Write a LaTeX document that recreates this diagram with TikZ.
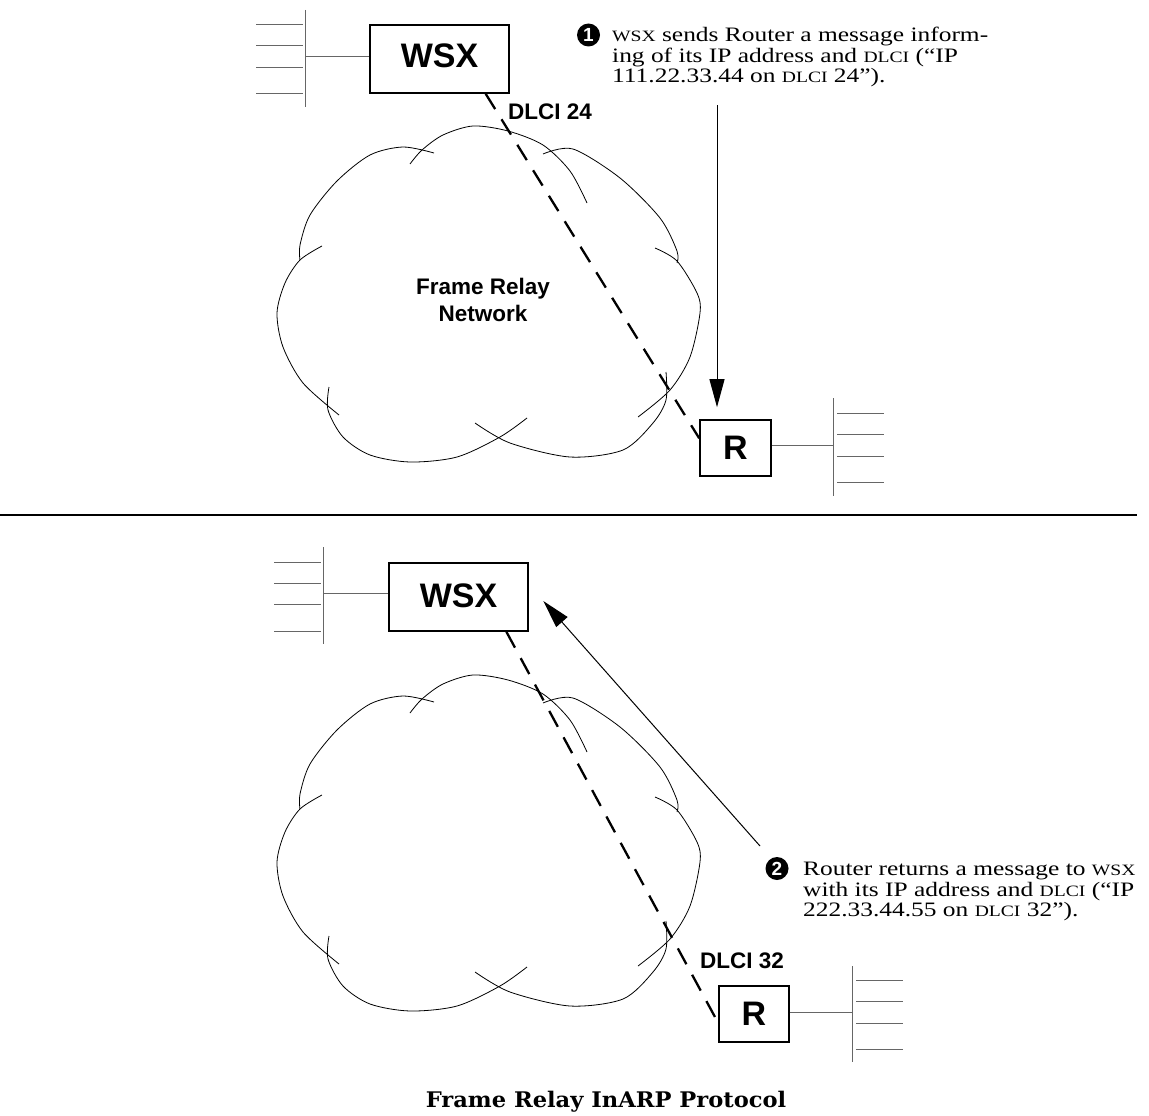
\documentclass[tikz,border=0pt]{standalone}
\usepackage{fontspec}
\usetikzlibrary{arrows.meta}

\newfontfamily\labelfont{Liberation Sans}
\newfontfamily\notefont[FakeStretch=1.24]{Liberation Serif}
\newfontfamily\titlefont[FakeStretch=1.05]{DejaVu Serif}
\newcommand{\smc}[1]{{\fontsize{15.8}{15.8}\selectfont #1}}

\begin{document}
\begin{tikzpicture}[x=1pt, y=-1pt, >={Triangle[length=28pt,width=15pt]},
  box/.style={draw, line width=1.6pt, inner sep=0pt, font=\labelfont\bfseries\fontsize{34}{34}\selectfont},
  stub/.style={draw=black!60, line width=0.9pt},
  link/.style={line width=2.3pt, dash pattern=on 18pt off 12pt},
  badge/.style={circle, fill=black, text=white, inner sep=0pt, minimum size=23pt, font=\labelfont\bfseries\fontsize{19}{19}\selectfont},
  note/.style={anchor=north west, inner sep=0pt, align=left, font=\notefont\fontsize{20.5}{20.5}\selectfont},
  dlci/.style={anchor=base west, inner sep=0pt, font=\labelfont\bfseries\fontsize{22.5}{22.5}\selectfont}]

  \useasboundingbox (0,0) rectangle (1149,1116);

  % Frame relay clouds (upper and lower half)
  \foreach \dy in {0,549}{
    \begin{scope}[shift={(0,\dy)}, line width=0.8pt]
      \draw plot[smooth] coordinates {(410,164) (422,150) (443,135) (473,126) (508,131) (543,145) (570,171) (587,203)};
      \draw plot[smooth] coordinates {(434,153) (403,147) (370,155) (337,181) (310,215) (300,245) (300,260)};
      \draw plot[smooth] coordinates {(543,154) (573,149) (620,178) (660,218) (677,251) (677,263)};
      \draw plot[smooth] coordinates {(322,246) (300,260) (285,283) (277,313) (283,347) (303,383) (339,415)};
      \draw plot[smooth] coordinates {(655,248) (677,261) (697,293) (700,313) (690,357) (670,390) (638,417)};
      \draw plot[smooth] coordinates {(329,387) (328,410) (343,437) (370,455) (410,462) (457,457) (500,437) (527,418)};
      \draw plot[smooth] coordinates {(475,423) (510,443) (570,457) (623,450) (653,423) (666,400) (666,372)};
    \end{scope}
  }

  % Upper half: WSX and router
  \node[box, minimum width=139pt, minimum height=68pt, text depth=6pt] (wsxA) at (439.5,59) {WSX};
  \node[box, minimum width=71pt, minimum height=56pt] (rA) at (735.5,448) {R};
  \node[inner sep=0pt, align=center, font=\labelfont\bfseries\fontsize{22.5}{27}\selectfont] (frnet) at (483,299.5) {Frame Relay\\Network};
  \node[dlci] (dlciA) at (508,119) {DLCI 24};
  \draw[link] (wsxA.-37) -- (rA.165);

  % LANs of the upper half
  \draw[stub] (305,10) -- (305,107);
  \foreach \y in {24,45,67,93} \draw[stub] (256,\y) -- (303,\y);
  \coordinate (lanA) at (305,56);
  \draw[stub] (lanA) -- (lanA -| wsxA.west);
  \draw[stub] (833,398) -- (833,496);
  \foreach \y in {413,434,456,482} \draw[stub] (837,\y) -- (884,\y);
  \coordinate (lanR) at (833,445);
  \draw[stub] (lanR -| rA.east) -- (lanR);

  % Step 1
  \node[badge] (oneA) at (588.5,35) {1};
  \node[note] (noteA) at (612,27) {\smc{WSX} sends Router a message inform-\\ing of its IP address and \smc{DLCI} (“IP\\111.22.33.44 on \smc{DLCI} 24”).};
  \coordinate (tailA) at (717,105);
  \draw[->, line width=1pt, shorten >=12pt] (tailA) -- (tailA |- rA.north);

  % Separator
  \draw[line width=2.5pt] (0,515) -- (1137,515);

  % Lower half: WSX and router
  \node[box, minimum width=139pt, minimum height=68pt, text depth=3pt] (wsxB) at (458.5,597) {WSX};
  \node[box, minimum width=70pt, minimum height=56pt] (rB) at (754,1014) {R};
  \node[dlci] (dlciB) at (700,968) {DLCI 32};
  \draw[link] (wsxB.-36) -- (rB.194);

  % LANs of the lower half
  \draw[stub] (323,547) -- (323,644);
  \foreach \y in {562,583,604,631} \draw[stub] (274,\y) -- (321,\y);
  \coordinate (lanB) at (323,593);
  \draw[stub] (lanB) -- (lanB -| wsxB.west);
  \draw[stub] (852,966) -- (852,1062);
  \foreach \y in {980,1001,1023,1049} \draw[stub] (856,\y) -- (903,\y);
  \coordinate (lanS) at (852,1012);
  \draw[stub] (lanS -| rB.east) -- (lanS);

  % Step 2
  \node[badge] (twoB) at (777,868.5) {2};
  \node[note] (noteB) at (803,862) {Router returns a message to \smc{WSX}\\with its IP address and \smc{DLCI} (“IP\\222.33.44.55 on \smc{DLCI} 32”).};
  \coordinate (tailB) at (760,846);
  \draw[->, line width=1pt, shorten >=22pt] (tailB) -- (wsxB.10);

  % Caption
  \node[anchor=base, inner sep=0pt, font=\titlefont\bfseries\fontsize{21.5}{21.5}\selectfont] (title) at (606,1107) {Frame Relay InARP Protocol};
\end{tikzpicture}
\end{document}
